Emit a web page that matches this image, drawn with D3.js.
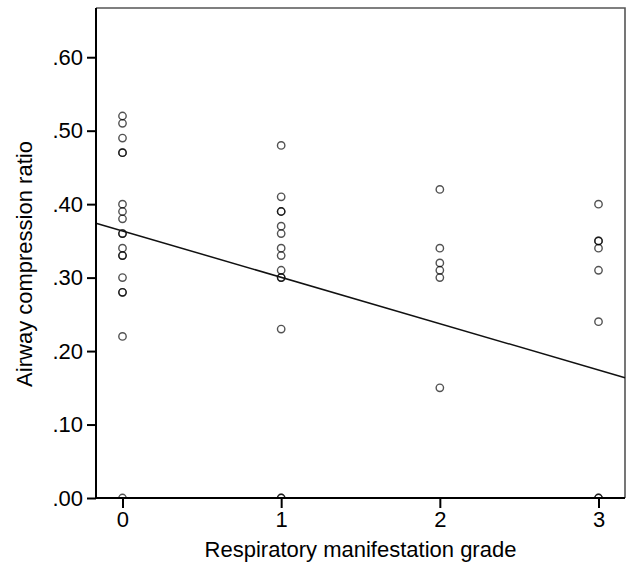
<!DOCTYPE html>
<html>
<head>
<meta charset="utf-8">
<script src="https://cdn.jsdelivr.net/npm/d3@7"></script>
<style>
    body { margin: 0; background: #fff; }
    text { font-family: "Liberation Sans", Arial, sans-serif; fill: #000; }
</style>
</head>
<body>
<svg id="chart" width="626" height="563"></svg>
<script>
// grades on the x axis
const grades = [0, 1, 2, 3];
// airway compression ratio per grade (repeated values = overlapping circles)
const grade0Ratios = [0.52, 0.51, 0.49, 0.47, 0.47, 0.40, 0.39, 0.38, 0.36, 0.36, 0.34, 0.33, 0.33, 0.30, 0.28, 0.28, 0.22, 0.00];
const grade1Ratios = [0.48, 0.41, 0.39, 0.39, 0.37, 0.36, 0.34, 0.33, 0.31, 0.30, 0.30, 0.23, 0.00, 0.00];
const grade2Ratios = [0.42, 0.34, 0.32, 0.31, 0.30, 0.15];
const grade3Ratios = [0.40, 0.35, 0.35, 0.34, 0.31, 0.24, 0.00, 0.00];
const yTicks = [0, 0.1, 0.2, 0.3, 0.4, 0.5, 0.6];
// fitted line
const fitIntercept = 0.3635;
const fitSlope = -0.0631;

const ratiosByGrade = [grade0Ratios, grade1Ratios, grade2Ratios, grade3Ratios];
let points = [];
grades.forEach((g, i) => {
    ratiosByGrade[i].forEach(v => points.push({ grade: g, ratio: v }));
});

const svg = d3.select('#chart');
const plotLeft = 96, plotRight = 625, plotTop = 8, plotBottom = 498;

const x = d3.scaleLinear().domain([-0.167, 3.167]).range([plotLeft, plotRight]);
const y = d3.scaleLinear().domain([0, 0.667]).range([plotBottom, plotTop]);

svg.append('clipPath').attr('id', 'plotClip')
    .append('rect')
    .attr('x', plotLeft).attr('y', plotTop)
    .attr('width', plotRight - plotLeft).attr('height', plotBottom - plotTop);

// frame top and right
svg.append('path')
    .attr('d', `M${plotLeft},${plotTop} L${plotRight},${plotTop} L${plotRight},${plotBottom}`)
    .attr('fill', 'none')
    .attr('stroke', '#555')
    .attr('stroke-width', 1.6);

// points
svg.append('g')
    .attr('clip-path', 'url(#plotClip)')
    .selectAll('circle')
    .data(points)
    .enter().append('circle')
    .attr('cx', d => x(d.grade))
    .attr('cy', d => y(d.ratio))
    .attr('r', 3.7)
    .attr('fill', 'none')
    .attr('stroke', '#000')
    .attr('stroke-opacity', 0.68)
    .attr('stroke-width', 1.4);

// fit line across the plot
const xd = x.domain();
svg.append('line')
    .attr('x1', x(xd[0]))
    .attr('y1', y(fitIntercept + fitSlope * xd[0]))
    .attr('x2', x(xd[1]))
    .attr('y2', y(fitIntercept + fitSlope * xd[1]))
    .attr('stroke', '#111')
    .attr('stroke-width', 1.5);

// axes
const yAxis = svg.append('g')
    .attr('transform', `translate(${plotLeft},0)`)
    .call(d3.axisLeft(y).tickValues(yTicks).tickSize(9).tickPadding(4)
        .tickFormat(d => d3.format('.2f')(d).replace(/^0/, '')));

const xAxis = svg.append('g')
    .attr('transform', `translate(0,${plotBottom})`)
    .call(d3.axisBottom(x).tickValues(grades).tickSize(10).tickPadding(3)
        .tickFormat(d3.format('d')));

[yAxis, xAxis].forEach(a => {
    a.select('.domain').attr('stroke', '#000').attr('stroke-width', 2);
    a.selectAll('.tick line').attr('stroke', '#000').attr('stroke-width', 2);
    a.selectAll('.tick text')
        .style('font-family', '"Liberation Sans", Arial, sans-serif')
        .style('font-size', '22px')
        .attr('fill', '#000');
});
xAxis.select('.domain').attr('d', `M${plotLeft},0H${plotRight}`);
yAxis.select('.domain').attr('d', `M0,${plotBottom}V${plotTop}`);

// axis titles
svg.append('text')
    .attr('x', (plotLeft + plotRight) / 2)
    .attr('y', 557)
    .attr('text-anchor', 'middle')
    .style('font-size', '22px')
    .text('Respiratory manifestation grade');

svg.append('text')
    .attr('transform', 'translate(32,264) rotate(-90)')
    .attr('text-anchor', 'middle')
    .style('font-size', '22px')
    .text('Airway compression ratio');
</script>
</body>
</html>
